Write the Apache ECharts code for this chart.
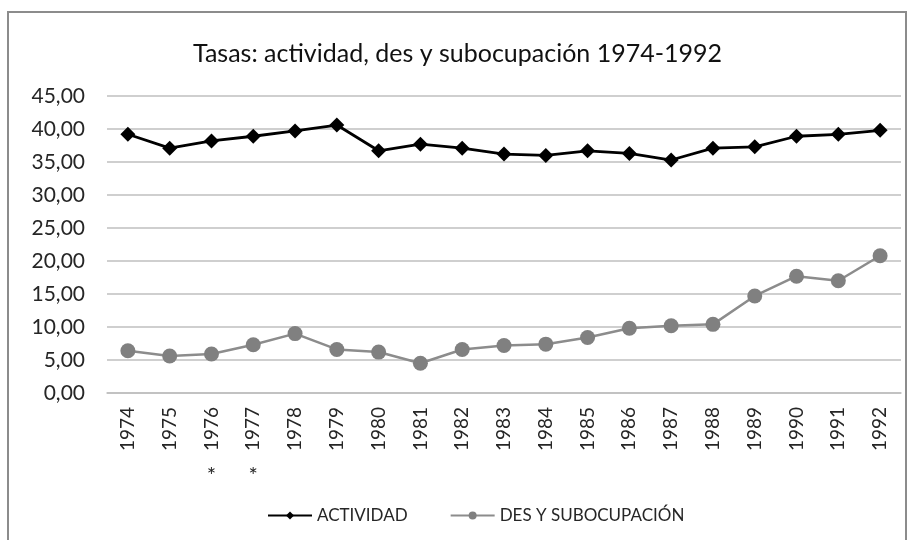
<!DOCTYPE html>
<html><head><meta charset="utf-8">
<script src="https://cdn.jsdelivr.net/npm/echarts@6/dist/echarts.min.js"></script>
<style>html,body{margin:0;padding:0;background:#fff}#c{width:915px;height:540px}</style>
</head><body><div id="c"></div>
<script>
const years = ['1974','1975','1976','1977','1978','1979','1980','1981','1982','1983','1984','1985','1986','1987','1988','1989','1990','1991','1992'];
const notes = ['','','*','*','','','','','','','','','','','','','','',''];
const actividad = [39.2,37.1,38.2,38.9,39.7,40.6,36.7,37.7,37.1,36.2,36.0,36.7,36.3,35.3,37.1,37.3,38.9,39.2,39.8];
const desSub = [6.4,5.6,5.9,7.3,9.0,6.6,6.2,4.5,6.6,7.2,7.4,8.4,9.8,10.2,10.4,14.7,17.7,17.0,20.8];
const titleText = 'Tasas: actividad, des y subocupación 1974-1992';
const seriesNames = ['ACTIVIDAD','DES Y SUBOCUPACIÓN'];

const font = 'Lato, "Open Sans", sans-serif';
const chart = echarts.init(document.getElementById('c'), null, {renderer:'canvas'});
chart.setOption({
  animation:false,
  backgroundColor:'#fff',
  graphic:[{type:'rect',shape:{x:8,y:12,width:898,height:540},style:{fill:'none',stroke:'#8c8c8c',lineWidth:2},silent:true}],
  title:{text:titleText,left:'center',top:36,textStyle:{fontFamily:font,fontSize:25,fontWeight:'normal',color:'#111'}},
  legend:{bottom:11,left:262,itemGap:42,itemWidth:44,itemHeight:10,
    textStyle:{fontFamily:font,fontSize:17,color:'#262626'},
    data:seriesNames},
  grid:{left:107,right:14,top:96,bottom:147,containLabel:false},
  xAxis:[{type:'category',data:years,boundaryGap:true,
    axisLine:{show:true,lineStyle:{color:'#bfbfbf',width:1.5}},axisTick:{show:false},
    axisLabel:{rotate:90,fontFamily:font,fontSize:19,color:'#262626',margin:14}},
    {type:'category',data:notes,position:'bottom',offset:64,boundaryGap:true,
    axisLine:{show:false},axisTick:{show:false},
    axisLabel:{fontFamily:font,fontSize:22,color:'#262626',interval:0}}],
  yAxis:{type:'value',min:0,max:45,interval:5,
    axisLine:{show:false},axisTick:{show:false},
    splitLine:{lineStyle:{color:'#bfbfbf',width:1.5}},
    axisLabel:{fontFamily:font,fontSize:21,color:'#262626',margin:22,
      formatter:v=>v.toFixed(2).replace('.',',')}},
  series:[
    {name:seriesNames[0],type:'line',data:actividad,symbol:'diamond',symbolSize:15,
      lineStyle:{color:'#000',width:2.8},itemStyle:{color:'#000'}},
    {name:seriesNames[1],type:'line',data:desSub,symbol:'circle',symbolSize:15,
      lineStyle:{color:'#8c8c8c',width:2.5},itemStyle:{color:'#808080'}}
  ]
});
</script></body></html>
